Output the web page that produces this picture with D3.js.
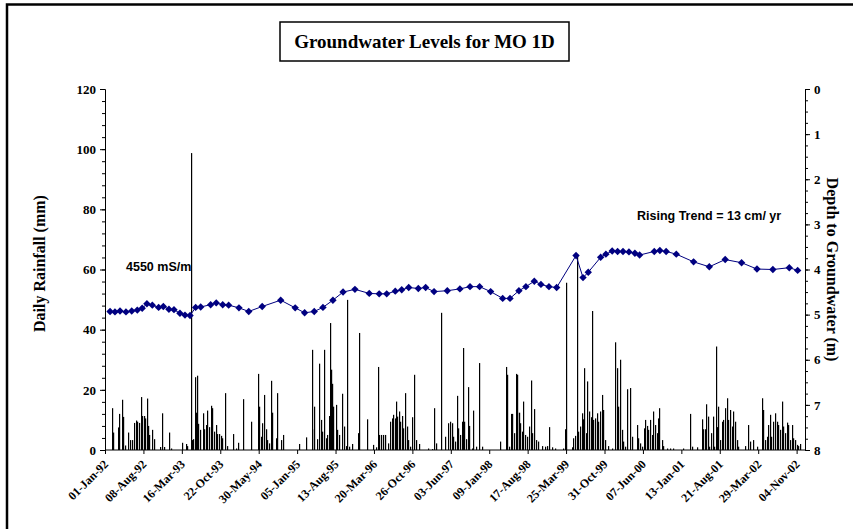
<!DOCTYPE html>
<html>
<head>
<meta charset="utf-8">
<script src="https://cdn.jsdelivr.net/npm/d3@7"></script>
<style>
  body { margin: 0; background: #fff; }
  svg { display: block; }
</style>
</head>
<body>
<svg id="chart"></svg>
<script>
// x axis tick labels (every 220 days)
const tickLabels = ["01-Jan-92", "08-Aug-92", "16-Mar-93", "22-Oct-93", "30-May-94", "05-Jan-95",
    "13-Aug-95", "20-Mar-96", "26-Oct-96", "03-Jun-97", "09-Jan-98", "17-Aug-98", "25-Mar-99",
    "31-Oct-99", "07-Jun-00", "13-Jan-01", "21-Aug-01", "29-Mar-02", "04-Nov-02"]

// groundwater depth readings (m below ground)
const levelDates = ["1992-01-30", "1992-02-27", "1992-03-27", "1992-04-30", "1992-06-02", "1992-07-04",
    "1992-08-01", "1992-08-28", "1992-09-28", "1992-11-03", "1992-11-30", "1993-01-01", "1993-01-30",
    "1993-03-05", "1993-04-03", "1993-05-02", "1993-06-03", "1993-07-02", "1993-08-28", "1993-09-29",
    "1993-11-05", "1993-12-09", "1994-02-06", "1994-04-03", "1994-06-19", "1994-10-03", "1994-12-25",
    "1995-02-17", "1995-04-13", "1995-06-02", "1995-07-29", "1995-09-25", "1995-12-02", "1996-02-22",
    "1996-04-19", "1996-06-01", "1996-07-20", "1996-08-26", "1996-10-05", "1996-11-29", "1997-01-10",
    "1997-02-27", "1997-05-14", "1997-07-25", "1997-09-21", "1997-11-15", "1998-01-17", "1998-03-27",
    "1998-05-08", "1998-06-28", "1998-08-07", "1998-09-24", "1998-11-01", "1998-12-17", "1999-01-30",
    "1999-05-21", "1999-06-30", "1999-07-30", "1999-10-09", "1999-11-08", "1999-12-14", "2000-01-14",
    "2000-02-14", "2000-03-19", "2000-04-22", "2000-05-19", "2000-08-11", "2000-09-12", "2000-10-18",
    "2000-12-15", "2001-03-24", "2001-06-22", "2001-09-21", "2001-12-24", "2002-03-22", "2002-06-21",
    "2002-09-23", "2002-11-10"]
const levelDepths = [4.93, 4.94, 4.92, 4.94, 4.92, 4.90, 4.86, 4.76, 4.79, 4.84, 4.82, 4.88, 4.89,
    4.97, 5.01, 5.02, 4.84, 4.83, 4.78, 4.74, 4.78, 4.79, 4.85, 4.93, 4.82, 4.68, 4.85,
    4.96, 4.93, 4.84, 4.68, 4.50, 4.44, 4.53, 4.54, 4.54, 4.48, 4.45, 4.40, 4.42, 4.40,
    4.49, 4.47, 4.43, 4.38, 4.38, 4.49, 4.64, 4.64, 4.47, 4.38, 4.26, 4.33, 4.38, 4.40,
    3.69, 4.18, 4.06, 3.73, 3.66, 3.59, 3.60, 3.60, 3.61, 3.64, 3.68, 3.60, 3.58, 3.60,
    3.66, 3.83, 3.94, 3.78, 3.85, 3.99, 4.00, 3.96, 4.02]

// daily rainfall: day number counted from 01-Jan-92, and mm
const rainDays = [38, 48, 76, 82, 99, 105, 115, 130, 143, 153, 166, 176, 185, 195, 204, 214, 223, 229, 239, 246,
    254, 267, 281, 315, 325, 338, 366, 378, 439, 464, 471, 491, 496, 506, 515, 523, 527, 534, 544, 559,
    568, 578, 586, 595, 605, 614, 624, 634, 643, 653, 662, 672, 687, 700, 731, 750, 763, 788, 838, 874,
    882, 891, 901, 910, 920, 929, 939, 949, 956, 977, 986, 1006, 1021, 1112, 1151, 1183, 1187, 1197, 1215, 1227,
    1235, 1244, 1254, 1264, 1273, 1284, 1288, 1292, 1301, 1307, 1321, 1330, 1341, 1355, 1368, 1378, 1387, 1397, 1412, 1447,
    1454, 1502, 1533, 1551, 1561, 1570, 1578, 1593, 1603, 1622, 1632, 1641, 1651, 1660, 1666, 1673, 1683, 1689, 1699, 1708,
    1718, 1727, 1737, 1746, 1756, 1769, 1780, 1798, 1851, 1870, 1884, 1895, 1922, 1947, 1965, 1975, 1985, 1994, 2004, 2013,
    2023, 2032, 2042, 2051, 2057, 2067, 2076, 2086, 2099, 2108, 2124, 2143, 2157, 2261, 2296, 2303, 2313, 2323, 2332, 2342,
    2351, 2357, 2360, 2370, 2376, 2386, 2395, 2405, 2418, 2427, 2437, 2446, 2458, 2468, 2481, 2500, 2519, 2529, 2542, 2557,
    2576, 2624, 2634, 2638, 2672, 2681, 2691, 2704, 2710, 2719, 2729, 2735, 2742, 2752, 2761, 2771, 2781, 2786, 2796, 2805,
    2815, 2824, 2834, 2844, 2853, 2863, 2881, 2901, 2920, 2929, 2939, 2948, 2958, 2967, 2977, 2990, 3006, 3015, 3044, 3053,
    3063, 3073, 3086, 3093, 3101, 3110, 3120, 3130, 3139, 3149, 3158, 3168, 3173, 3187, 3196, 3216, 3235, 3254, 3311, 3349,
    3359, 3387, 3416, 3425, 3435, 3439, 3450, 3460, 3468, 3479, 3488, 3498, 3505, 3511, 3521, 3530, 3540, 3550, 3559, 3569,
    3578, 3588, 3597, 3607, 3616, 3626, 3664, 3683, 3693, 3712, 3731, 3759, 3769, 3778, 3788, 3797, 3807, 3816, 3826, 3836,
    3845, 3855, 3864, 3874, 3883, 3893, 3903, 3912, 3922, 3931, 3941, 3950, 3960, 3969, 3979]
const rainMm = [13.9, 5.8, 7.5, 12, 16.7, 11, 1.5, 5.8, 3.3, 3.3, 9, 9.8, 9.4, 9, 17.6, 11.3, 11.3, 10.5, 17.1, 8,
    5, 6.7, 3.6, 1, 12.2, 1, 5.8, 0.5, 2.4, 2, 1.3, 98.7, 3.3, 3.6, 24.2, 12.4, 24.7, 8.7, 6.7, 12.2,
    6.9, 8.3, 13.1, 7.6, 14.7, 13.9, 6.1, 8.3, 5.3, 5.3, 4.7, 3.9, 18.9, 1.3, 5.3, 0.5, 2.4, 16.9, 9.4, 25.3,
    14.4, 4.4, 8.9, 18.3, 6.9, 3.3, 2.2, 23, 12.4, 3.9, 18.9, 3.3, 5, 2, 4.2, 6.9, 33.3, 14.4, 3.6, 28.7,
    10, 6.1, 33.3, 3.9, 5, 11.3, 42.2, 26.7, 22, 14.4, 15, 6.7, 5, 18.7, 7.8, 1.3, 49.9, 1.1, 2, 5.6,
    38.9, 10.2, 1.7, 0.9, 27.6, 5, 5, 5, 5, 2.2, 9.4, 10.5, 11.7, 10.5, 16.1, 11.1, 12.8, 9.4, 11.3, 7.2,
    18.9, 7.8, 3.3, 1.1, 10.9, 25, 3.3, 2, 0.5, 0.3, 13.9, 2.2, 45.6, 4.4, 8.9, 9.4, 8.9, 4.4, 2.8, 18,
    7.2, 5, 9.4, 33.9, 9.4, 3.6, 20.9, 8, 0.5, 13.1, 1.1, 28.9, 1.1, 2.8, 27.6, 25, 1.1, 12, 12, 5.6,
    25.3, 25, 12.4, 12.4, 8.9, 6.1, 16.1, 5, 4.4, 7.8, 23.1, 5.6, 13.6, 3.3, 2.8, 1.3, 1.1, 1.3, 7.6, 0.9,
    0.5, 0.5, 6.9, 55.6, 0.9, 3.9, 4.7, 64.8, 6.1, 7.8, 12.2, 10.2, 27.2, 5.6, 22.8, 12.8, 10.9, 46.2, 10, 10.5,
    12.2, 9.4, 12.8, 18.3, 13.3, 3.3, 1.3, 0.5, 35.8, 27.2, 14.4, 30, 6.7, 2.8, 1.1, 20.2, 20.6, 4.4, 8.3, 3.9,
    2.2, 1.1, 7.2, 10, 8, 6.7, 10, 5, 12.8, 8.3, 5.6, 10.5, 13.9, 3.3, 1.3, 0.5, 0.5, 0.5, 0.5, 12,
    1.1, 0.9, 10.2, 6.9, 6.9, 15.2, 11.1, 1.1, 5.6, 11.1, 1.1, 34.4, 7.6, 14.4, 3.3, 9.4, 10, 13.9, 17.2, 10,
    13.3, 7.8, 12.8, 9.4, 3.3, 1.1, 1.3, 8.3, 2.8, 3.3, 1.1, 17.2, 13.3, 3.3, 4.4, 8.3, 11.7, 4.4, 9.4, 12.2,
    9.4, 8.3, 6.7, 16.1, 7.8, 5.6, 9.1, 8.3, 3.3, 8.3, 3.9, 3.3, 1.7, 1.3, 2]

const W = 853, H = 529
const plot = {left: 105, right: 805, top: 89, bottom: 450}
const startDate = new Date(1992, 0, 1)
const endDate = d3.timeDay.offset(startDate, 4008)
const parseTick = d3.timeParse("%d-%b-%y")
const parseIso = d3.timeParse("%Y-%m-%d")
const NAVY = "#000080"
const serif = "'Liberation Serif', 'Times New Roman', serif"
const sans = "'Liberation Sans', Arial, sans-serif"

const svg = d3.select("#chart").attr("width", W).attr("height", H)

// outer frame (only top and left edges are inside the picture)
svg.append("path")
    .attr("d", `M7,${H}V4.5H${W}`)
    .attr("fill", "none").attr("stroke", "#000").attr("stroke-width", 2.5)

const x = d3.scaleTime().domain([startDate, endDate]).range([plot.left, plot.right])
const yRain = d3.scaleLinear().domain([0, 120]).range([plot.bottom, plot.top])
const yDepth = d3.scaleLinear().domain([0, 8]).range([plot.top, plot.bottom])

// rainfall bars
const rain = rainDays.map((d, i) => ({date: d3.timeDay.offset(startDate, d), mm: rainMm[i]}))
svg.append("g").selectAll("rect")
    .data(rain)
    .join("rect")
    .attr("x", d => Math.round(x(d.date)))
    .attr("y", d => yRain(d.mm))
    .attr("width", 1.2)
    .attr("height", d => yRain(0) - yRain(d.mm))
    .attr("fill", "#000")

// left axis
const leftAxis = svg.append("g")
    .attr("transform", `translate(${plot.left},0)`)
    .call(d3.axisLeft(yRain).tickValues(d3.range(0, 121, 4)).tickSize(3).tickFormat(""))
leftAxis.select(".domain").remove()
svg.append("g")
    .attr("transform", `translate(${plot.left},0)`)
    .call(d3.axisLeft(yRain).tickValues([0, 20, 40, 60, 80, 100, 120]).tickSize(5).tickPadding(4))
    .call(g => g.selectAll("text").style("font-family", serif).style("font-weight", "bold").style("font-size", "13px").attr("fill", "#000"))

// right axis
const rightMinor = svg.append("g")
    .attr("transform", `translate(${plot.right},0)`)
    .call(d3.axisRight(yDepth).tickValues(d3.range(0, 8.01, 0.25)).tickSize(3).tickFormat(""))
rightMinor.select(".domain").remove()
svg.append("g")
    .attr("transform", `translate(${plot.right},0)`)
    .call(d3.axisRight(yDepth).tickValues(d3.range(0, 9, 1)).tickSize(5).tickPadding(4))
    .call(g => g.selectAll("text").style("font-family", serif).style("font-weight", "bold").style("font-size", "13px").attr("fill", "#000"))

// bottom axis
const tickDates = tickLabels.map(parseTick)
const xAxisG = svg.append("g")
    .attr("transform", `translate(0,${plot.bottom})`)
    .call(d3.axisBottom(x).tickValues(tickDates).tickSize(4).tickFormat(""))
xAxisG.select(".domain").attr("d", `M${plot.left},0H${plot.right}`)
svg.append("g").selectAll("text")
    .data(tickDates)
    .join("text")
    .attr("transform", d => `translate(${x(d) - 2},${plot.bottom + 9}) rotate(-45)`)
    .attr("text-anchor", "end")
    .attr("dy", "0.7em")
    .style("font-family", serif).style("font-weight", "bold").style("font-size", "12px")
    .text((d, i) => tickLabels[i])

// groundwater line with diamond markers
const levels = levelDates.map((d, i) => ({date: parseIso(d), depth: levelDepths[i]}))
svg.append("path")
    .datum(levels)
    .attr("fill", "none")
    .attr("stroke", NAVY)
    .attr("stroke-width", 1)
    .attr("d", d3.line().x(d => x(d.date)).y(d => yDepth(d.depth)))
svg.append("g").selectAll("path")
    .data(levels)
    .join("path")
    .attr("transform", d => `translate(${x(d.date)},${yDepth(d.depth)})`)
    .attr("d", "M0,-3.7L3.7,0L0,3.7L-3.7,0Z")
    .attr("fill", NAVY)

// axis titles
svg.append("text")
    .attr("transform", `translate(45,${(plot.top + plot.bottom) / 2 - 6}) rotate(-90)`)
    .attr("text-anchor", "middle")
    .style("font-family", serif).style("font-weight", "bold").style("font-size", "16px")
    .text("Daily Rainfall (mm)")
svg.append("text")
    .attr("transform", `translate(827,${(plot.top + plot.bottom) / 2}) rotate(90)`)
    .attr("text-anchor", "middle")
    .style("font-family", serif).style("font-weight", "bold").style("font-size", "16px")
    .text("Depth to Groundwater (m)")

// title box
svg.append("rect")
    .attr("x", 280).attr("y", 22).attr("width", 289).attr("height", 39)
    .attr("fill", "#fff").attr("stroke", "#000").attr("stroke-width", 1.5)
svg.append("text")
    .attr("x", 424.5).attr("y", 48)
    .attr("text-anchor", "middle")
    .style("font-family", serif).style("font-weight", "bold").style("font-size", "19px")
    .text("Groundwater Levels for MO 1D")

// annotations
svg.append("text")
    .attr("x", 126).attr("y", 271)
    .style("font-family", sans).style("font-weight", "bold").style("font-size", "12.5px")
    .text("4550 mS/m")
svg.append("text")
    .attr("x", 637).attr("y", 220)
    .style("font-family", sans).style("font-weight", "bold").style("font-size", "12.5px")
    .text("Rising Trend = 13 cm/ yr")
</script>
</body>
</html>
